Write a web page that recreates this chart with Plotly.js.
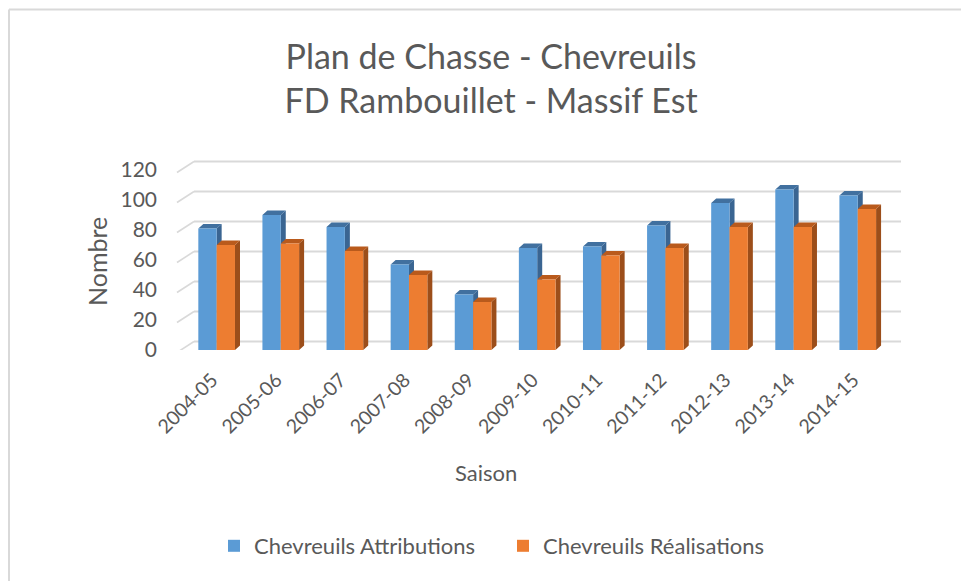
<!DOCTYPE html>
<html>
<head>
<meta charset="utf-8">
<script src="https://cdn.plot.ly/plotly-3.0.1.min.js"></script>
<style>html,body{margin:0;padding:0;background:#fff;}#chart{width:961px;height:581px;}</style>
</head>
<body>
<div id="chart"></div>
<script>
// ---- data ----
const seasons = ["2004-05","2005-06","2006-07","2007-08","2008-09","2009-10","2010-11","2011-12","2012-13","2013-14","2014-15"];
const attributions = [81, 90, 82, 57, 37, 68, 69, 83, 98, 107, 103];
const realisations = [70, 71, 66, 50, 32, 47, 63, 68, 82, 82, 94];
const seriesNames = ["Chevreuils Attributions", "Chevreuils Réalisations"];
const yTicks = [0, 20, 40, 60, 80, 100, 120];
const titleText = "Plan de Chasse - Chevreuils<br>FD Rambouillet - Massif Est";
const xTitle = "Saison";
const yTitle = "Nombre";

// ---- geometry / style ----
const W = 961, H = 581;
const M = {l: 177, r: 60, t: 150, b: 231};
const plotW = W - M.l - M.r, plotH = H - M.t - M.b;
const Y_MAX = plotH / 1.5;
const BAR_W = 0.286;      // width of each bar (category units)
const DX = 0.078;         // depth in x (category units)
const DY = 3.0;           // depth in y (value units)
const LABEL_SHIFT = -0.07;
const FONT = "Lato, 'Open Sans', sans-serif";
const TXT = "#595959";
const GRID = "#d9d9d9";
const px2paperX = p => (p - M.l) / plotW;
const px2paperY = p => (M.t + plotH - p) / plotH;

const idx = seasons.map((s, i) => i);

function depthFaces(vals, off, sideColor, topColor) {
  const sx = [], sy = [], tx = [], ty = [];
  vals.forEach((v, i) => {
    const xL = i + off, xR = xL + BAR_W;
    sx.push(xR, xR + DX, xR + DX, xR, xR, null);
    sy.push(0, DY, v + DY, v, 0, null);
    tx.push(xL, xR, xR + DX, xL + DX, xL, null);
    ty.push(v, v, v + DY, v + DY, v, null);
  });
  const base = {type: 'scatter', mode: 'lines', line: {width: 0}, fill: 'toself',
    xaxis: 'x', yaxis: 'y', showlegend: false, hoverinfo: 'skip'};
  return [
    Object.assign({}, base, {x: sx, y: sy, fillcolor: sideColor}),
    Object.assign({}, base, {x: tx, y: ty, fillcolor: topColor})
  ];
}

const traces = [
  ...depthFaces(attributions, -BAR_W, '#3a6592', '#41709f'),
  ...depthFaces(realisations, 0, '#9c4e1a', '#b95a1c'),
  {type: 'bar', name: seriesNames[0], x: seasons, y: attributions, xaxis: 'x2', yaxis: 'y2',
   width: BAR_W, offset: -BAR_W, marker: {color: '#5b9bd5', line: {width: 0}}},
  {type: 'bar', name: seriesNames[1], x: seasons, y: realisations, xaxis: 'x2', yaxis: 'y2',
   width: BAR_W, offset: 0, marker: {color: '#ed7d31', line: {width: 0}}}
];

const shapes = [];
yTicks.forEach(v => {
  shapes.push({type: 'line', layer: 'below', xref: 'paper', yref: 'y', ysizemode: 'pixel', yanchor: v,
    x0: 0, x1: px2paperX(194), y0: -2.5, y1: 8.5, line: {color: GRID, width: 1.6}});
  shapes.push({type: 'line', layer: 'below', xref: 'paper', yref: 'y', ysizemode: 'pixel', yanchor: v,
    x0: px2paperX(194), x1: px2paperX(901), y0: 8.5, y1: 8.5, line: {color: GRID, width: 2}});
});
// chart border (top and left)
shapes.push({type: 'line', layer: 'below', xref: 'paper', yref: 'paper',
  x0: px2paperX(9), x1: px2paperX(961), y0: px2paperY(9.5), y1: px2paperY(9.5), line: {color: GRID, width: 2}});
shapes.push({type: 'line', layer: 'below', xref: 'paper', yref: 'paper',
  x0: px2paperX(9), x1: px2paperX(9), y0: px2paperY(9.5), y1: px2paperY(581), line: {color: GRID, width: 2}});

const xDomain = [px2paperX(184.6), px2paperX(889.8)];

const layout = {
  width: W, height: H,
  margin: M,
  paper_bgcolor: '#fff', plot_bgcolor: 'rgba(0,0,0,0)',
  font: {family: FONT, color: TXT},
  title: {text: titleText,
    font: {family: FONT, size: 34, color: TXT}, x: 0.511, xanchor: 'center', y: 1 - 68.5 / H, yanchor: 'middle'},
  barmode: 'overlay',
  showlegend: true,
  legend: {orientation: 'h', xref: 'container', yref: 'container', x: 503 / W, xanchor: 'center',
    y: 1 - 546 / H, yanchor: 'middle', font: {family: FONT, size: 22, color: TXT}, traceorder: 'normal',
    entrywidth: 244},
  xaxis: {domain: xDomain, range: [-0.5, 10.5], tickmode: 'array', tickvals: idx.map(i => i + LABEL_SHIFT), ticktext: seasons,
    tickangle: -45, showgrid: false, zeroline: false, showline: false, ticks: 'outside', ticklen: 10,
    tickcolor: 'rgba(0,0,0,0)', tickfont: {size: 19.5, color: TXT}, fixedrange: true},
  yaxis: {range: [0, Y_MAX], tickmode: 'array', tickvals: yTicks, anchor: 'free', position: 0,
    showgrid: false, zeroline: false, showline: false, ticks: '', ticklabelstandoff: 20,
    tickfont: {size: 21, color: TXT}},
  xaxis2: {overlaying: 'x', range: [-0.5, 10.5], visible: false, type: 'category', categoryarray: seasons},
  yaxis2: {overlaying: 'y', range: [0, Y_MAX], visible: false},
  annotations: [
    {text: xTitle, xref: 'paper', yref: 'paper', x: px2paperX(486), y: px2paperY(472),
     xanchor: 'center', yanchor: 'middle', showarrow: false, font: {size: 22, color: TXT}},
    {text: yTitle, xref: 'paper', yref: 'paper', x: px2paperX(97), y: px2paperY(262), textangle: -90,
     xanchor: 'center', yanchor: 'middle', showarrow: false, font: {size: 25, color: TXT}}
  ],
  shapes: shapes
};

Plotly.newPlot('chart', traces, layout, {displayModeBar: false, staticPlot: true});
</script>
</body>
</html>
